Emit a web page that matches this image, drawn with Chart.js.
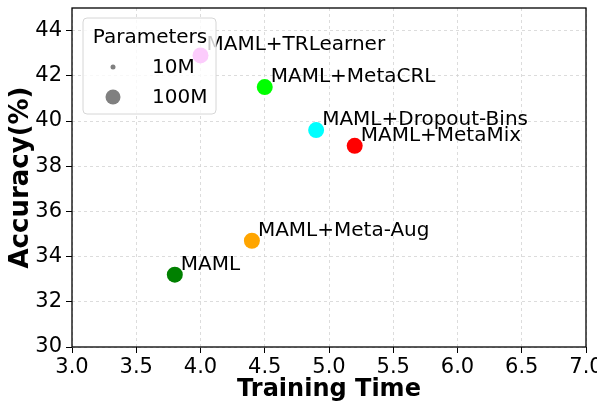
<!DOCTYPE html>
<html>
<head>
<meta charset="utf-8">
<script src="https://cdn.jsdelivr.net/npm/chart.js@4"></script>
<style>
  html, body { margin: 0; padding: 0; background: #fff; }
  #wrap { width: 597px; height: 403px; }
</style>
</head>
<body>
<div id="wrap"><canvas id="chartAccuracy" width="597" height="403"></canvas></div>
<script>
// data
const methods = ['MAML', 'MAML+Meta-Aug', 'MAML+TRLearner', 'MAML+MetaCRL', 'MAML+Dropout-Bins', 'MAML+MetaMix'];
const trainingTime = [3.8, 4.4, 4.0, 4.5, 4.9, 5.2];
const accuracy = [33.2, 34.7, 42.9, 41.5, 39.6, 38.9];
const pointColors = ['#008000', '#ffa500', '#f000f0', '#00ff00', '#00ffff', '#ff0000'];
const xTicks = [3.0, 3.5, 4.0, 4.5, 5.0, 5.5, 6.0, 6.5, 7.0];
const yTicks = [30, 32, 34, 36, 38, 40, 42, 44];
const sizeLabels = ['10M', '100M'];

const FONT = "'DejaVu Sans', sans-serif";

// 점 옆 라벨
const labelPlugin = {
    id: 'pointLabels',
    afterDatasetsDraw(chart) {
        const ctx = chart.ctx;
        const meta = chart.getDatasetMeta(0);
        ctx.save();
        ctx.font = '20px ' + FONT;
        ctx.fillStyle = '#000';
        ctx.textAlign = 'left';
        ctx.textBaseline = 'alphabetic';
        meta.data.forEach((pt, i) => {
            ctx.fillText(methods[i], pt.x + 6, pt.y - 5);
        });
        ctx.restore();
    }
};

// 테두리 + 범례
const framePlugin = {
    id: 'frameLegend',
    afterDraw(chart) {
        const ctx = chart.ctx;
        const a = chart.chartArea;
        ctx.save();
        // legend box
        const lx = a.left + 11, ly = a.top + 10, lw = 133, lh = 96;
        ctx.beginPath();
        ctx.roundRect(lx, ly, lw, lh, 4);
        ctx.fillStyle = 'rgba(255,255,255,0.8)';
        ctx.fill();
        ctx.strokeStyle = '#d6d6d6';
        ctx.lineWidth = 1;
        ctx.stroke();

        ctx.fillStyle = '#000';
        ctx.font = '20px ' + FONT;
        ctx.textAlign = 'center';
        ctx.fillText('Parameters', lx + 67, ly + 25);

        const radii = [2.5, 7.5];
        ctx.textAlign = 'left';
        sizeLabels.forEach((lab, i) => {
            const cy = ly + 49 + i * 30;
            ctx.beginPath();
            ctx.arc(lx + 30, cy, radii[i], 0, Math.PI * 2);
            ctx.fillStyle = '#808080';
            ctx.fill();
            ctx.fillStyle = '#000';
            ctx.fillText(lab, lx + 69, cy + 6);
        });

        // spines
        ctx.strokeStyle = '#000';
        ctx.lineWidth = 1.3;
        ctx.strokeRect(a.left, a.top, a.right - a.left, a.bottom - a.top);
        ctx.restore();
    }
};

function getChart(id) {
    const ctx = document.getElementById(id);
    new Chart(ctx, {
        type: 'scatter',
        data: {
            datasets: [{
                data: trainingTime.map((t, i) => ({ x: t, y: accuracy[i] })),
                pointBackgroundColor: pointColors,
                pointBorderWidth: 0,
                pointRadius: 8,
                pointHoverRadius: 8
            }]
        },
        options: {
            responsive: false,
            animation: false,
            devicePixelRatio: 1,
            layout: { padding: { top: 7, right: 11, left: 0, bottom: 0 } },
            plugins: {
                legend: { display: false },
                tooltip: { enabled: false }
            },
            scales: {
                x: {
                    type: 'linear',
                    min: 3, max: 7,
                    afterBuildTicks: s => { s.ticks = xTicks.map(v => ({ value: v })); },
                    afterFit: s => { s.height = 56; s.paddingLeft = 0; s.paddingRight = 0; },
                    ticks: {
                        autoSkip: false,
                        maxRotation: 0,
                        padding: 2,
                        color: '#000',
                        font: { family: FONT, size: 21 },
                        callback: v => Number(v).toFixed(1)
                    },
                    grid: { color: '#d3d3d3', lineWidth: 0.8, tickLength: 6, tickColor: '#000', tickWidth: 1 },
                    border: { display: false, dash: [3, 3] },
                    title: {
                        display: true,
                        text: 'Training Time',
                        color: '#000',
                        padding: { top: 0, bottom: -1 },
                        font: { family: FONT, size: 24, weight: 'bold' }
                    }
                },
                y: {
                    type: 'linear',
                    min: 30, max: 45,
                    afterBuildTicks: s => { s.ticks = yTicks.map(v => ({ value: v })); },
                    afterFit: s => { s.width = 72; s.paddingTop = 0; s.paddingBottom = 0; },
                    ticks: {
                        autoSkip: false,
                        padding: 4,
                        color: '#000',
                        font: { family: FONT, size: 21 }
                    },
                    grid: { color: '#d3d3d3', lineWidth: 0.8, tickLength: 6, tickColor: '#000', tickWidth: 1 },
                    border: { display: false, dash: [3, 3] },
                    title: {
                        display: true,
                        text: 'Accuracy(%)',
                        color: '#000',
                        padding: { top: 6, bottom: 0 },
                        font: { family: FONT, size: 26, weight: 'bold' }
                    }
                }
            }
        },
        plugins: [labelPlugin, framePlugin]
    });
}

window.addEventListener('DOMContentLoaded', function() {
    getChart('chartAccuracy');
});
</script>
</body>
</html>
